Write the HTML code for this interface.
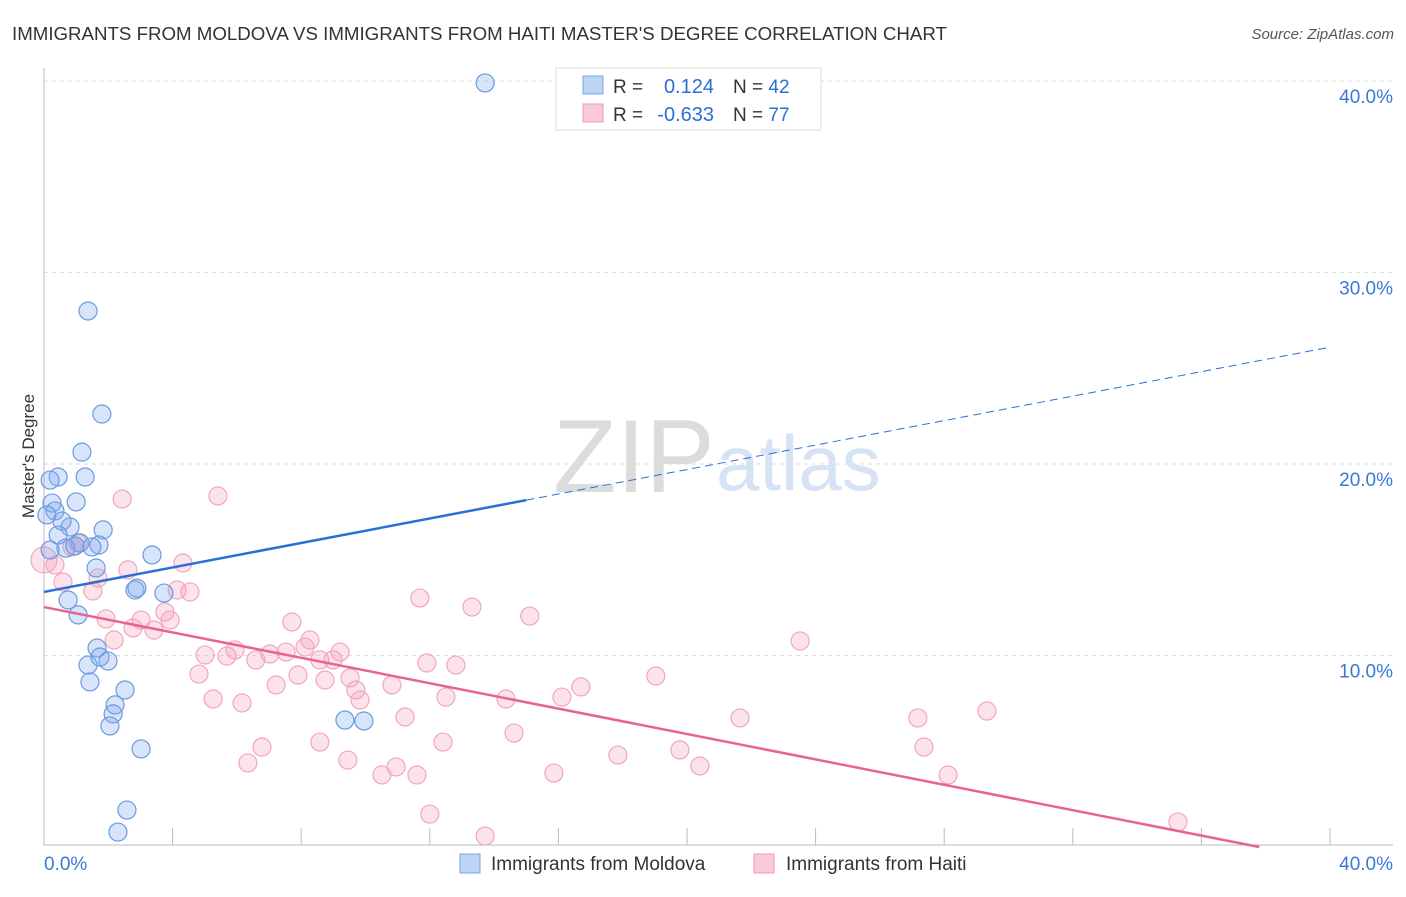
<!DOCTYPE html>
<html><head><meta charset="utf-8"><style>
body{margin:0;background:#fff;font-family:"Liberation Sans",sans-serif}
svg text{font-family:"Liberation Sans",sans-serif}
</style></head><body>
<svg id="c" width="1406" height="892">
<text x="12" y="40" font-size="18.7" fill="#333">IMMIGRANTS FROM MOLDOVA VS IMMIGRANTS FROM HAITI MASTER'S DEGREE CORRELATION CHART</text>
<text x="1394" y="39" font-size="15" fill="#555" text-anchor="end" font-style="italic">Source: ZipAtlas.com</text>
<text x="553" y="492" font-size="104" fill="#dcdcdc" font-family="Liberation Serif">ZIP</text>
<text x="716" y="490" font-size="78" fill="#d5e3f5">atlas</text>
<text transform="translate(34,456) rotate(-90)" font-size="17" fill="#333" text-anchor="middle">Master's Degree</text>
<g id="grid"></g><g id="pts"></g><g id="lines"></g>
<g>
<rect x="556" y="68" width="265" height="62" fill="#fff" stroke="#ddd"/>
<rect x="583" y="76" width="20" height="18" fill="#bcd4f5" stroke="#7aa6e6"/>
<rect x="583" y="104" width="20" height="18" fill="#f9c9d8" stroke="#ee9ab5"/>
<text x="613" y="93" font-size="19" fill="#333">R =</text>
<text x="714" y="93" font-size="20" fill="#2a6fd6" text-anchor="end">0.124</text>
<text x="733" y="93" font-size="19" fill="#333">N = <tspan fill="#2a6fd6">42</tspan></text>
<text x="613" y="121" font-size="19" fill="#333">R =</text>
<text x="714" y="121" font-size="20" fill="#2a6fd6" text-anchor="end">-0.633</text>
<text x="733" y="121" font-size="19" fill="#333">N = <tspan fill="#2a6fd6">77</tspan></text>
</g>
<g>
<rect x="460" y="854" width="20" height="19" fill="#bcd4f5" stroke="#7aa6e6"/>
<text x="491" y="870" font-size="19" fill="#333">Immigrants from Moldova</text>
<rect x="754" y="854" width="20" height="19" fill="#f9c9d8" stroke="#ee9ab5"/>
<text x="786" y="870" font-size="19" fill="#333">Immigrants from Haiti</text>
</g>
</svg>
<script>
const moldovaX=[13.72,1.37,1.80,1.18,0.44,0.19,1.28,1.00,0.25,0.34,1.84,0.81,0.56,0.44,1.12,0.68,0.96,1.62,3.36,0.75,2.83,3.73,1.06,1.65,1.74,1.99,1.37,1.43,2.52,2.21,2.15,2.05,3.02,2.58,2.30,9.36,9.95,0.19,0.09,1.71,2.89,1.49];
const moldovaY=[39.90,27.99,22.61,20.62,19.32,19.16,19.32,18.02,17.96,17.55,16.56,16.71,17.02,16.29,15.88,15.61,15.72,14.57,15.25,12.90,13.42,13.26,12.12,10.39,9.92,9.71,9.50,8.62,8.20,7.42,6.95,6.32,5.12,1.93,0.78,6.63,6.58,15.51,17.34,15.77,13.52,15.67];
const haitiX=[0.0,0.34,0.59,1.06,0.87,1.68,1.52,2.43,5.41,2.61,1.93,2.18,2.77,3.02,3.42,3.76,3.92,4.14,4.54,4.32,4.82,5.01,5.26,5.69,5.94,6.16,6.34,6.78,6.59,7.03,7.22,7.53,7.71,7.90,8.12,8.27,8.58,8.74,8.99,9.21,9.52,9.70,9.83,9.45,8.58,10.51,10.95,10.82,11.23,11.60,11.69,11.91,12.00,12.50,12.41,12.81,13.31,13.72,14.37,14.62,15.11,15.86,16.11,16.70,17.85,19.03,19.78,20.40,21.65,23.52,27.18,27.37,28.12,29.33,35.27];
const haitiY=[14.99,14.73,13.84,15.88,15.67,14.05,13.37,18.17,18.33,14.47,11.91,10.81,11.44,11.85,11.33,12.27,11.85,13.42,13.32,14.83,9.03,10.03,7.73,9.97,10.29,7.52,4.39,5.22,9.77,10.08,8.46,10.18,11.75,8.98,10.44,10.81,9.77,8.72,9.77,10.18,8.83,8.20,7.68,4.54,5.48,3.76,4.18,8.46,6.79,3.76,13.00,9.61,1.72,7.83,5.48,9.50,12.53,0.57,7.73,5.95,12.06,3.86,7.83,8.36,4.80,8.93,5.07,4.23,6.74,10.76,6.74,5.22,3.76,7.10,1.31];
const yTicks=[10,20,30,40];
const yTickLabels=["10.0%","20.0%","30.0%","40.0%"];
const xTicks=[0,4,8,12,16,20,24,28,32,36,40];
const moldovaTrend=[13.32,26.1];
const moldovaSolidEnd=15.0;
const haitiTrend=[12.53,0,37.8];
const X=v=>44+v/40*1286, Y=v=>847-v*19.15;
const NS="http://www.w3.org/2000/svg";
function mk(p,t,a){const e=document.createElementNS(NS,t);for(const k in a)e.setAttribute(k,a[k]);p.appendChild(e);return e;}
const g=document.getElementById('grid');
yTicks.forEach((t,i)=>{const l=mk(g,'line',{x1:44,x2:1393,y1:Y(t),y2:Y(t),stroke:'#ddd','stroke-dasharray':'4,4'});


const tx=mk(g,'text',{x:1393,y:Y(t)+22,'font-size':19,fill:'#3a78d8','text-anchor':'end'});tx.textContent=yTickLabels[i];

});
const ax=mk(g,'path',{d:'M44 68V845H1393',stroke:'#bbb',fill:'none'});


xTicks.forEach(t=>{const l=mk(g,'line',{x1:X(t),x2:X(t),y1:828,y2:845,stroke:'#bbb'});

});
[[0,'0.0%','start',44],[40,'40.0%','end',1393]].forEach(d=>{const tx=mk(g,'text',{x:d[3],y:870,'font-size':19,fill:'#3a78d8','text-anchor':d[2]});tx.textContent=d[1];

});
const p=document.getElementById('pts');
haitiX.forEach((x,i)=>{const c=mk(p,'circle',{cx:X(x),cy:Y(haitiY[i]),r:i==0?13:9,fill:'rgba(244,160,188,0.3)',stroke:'#f2a6bf','stroke-width':1.2});

});
moldovaX.forEach((x,i)=>{const c=mk(p,'circle',{cx:X(x),cy:Y(moldovaY[i]),r:9,fill:'rgba(130,170,235,0.32)',stroke:'#6a9be0','stroke-width':1.2});

});
const L=document.getElementById('lines');
const my=x=>moldovaTrend[0]+(moldovaTrend[1]-moldovaTrend[0])*x/40;
let a=mk(L,'line',{x1:X(0),y1:Y(my(0)),x2:X(moldovaSolidEnd),y2:Y(my(moldovaSolidEnd)),stroke:'#2a6fd6','stroke-width':2.5});


a=mk(L,'line',{x1:X(moldovaSolidEnd),y1:Y(my(moldovaSolidEnd)),x2:X(40),y2:Y(my(40)),stroke:'#2a6fd6','stroke-width':1,'stroke-dasharray':'8,5'});


a=mk(L,'line',{x1:X(0),y1:Y(haitiTrend[0]),x2:X(haitiTrend[2]),y2:Y(haitiTrend[1]),stroke:'#e8648f','stroke-width':2.5});


</script>
</body></html>
